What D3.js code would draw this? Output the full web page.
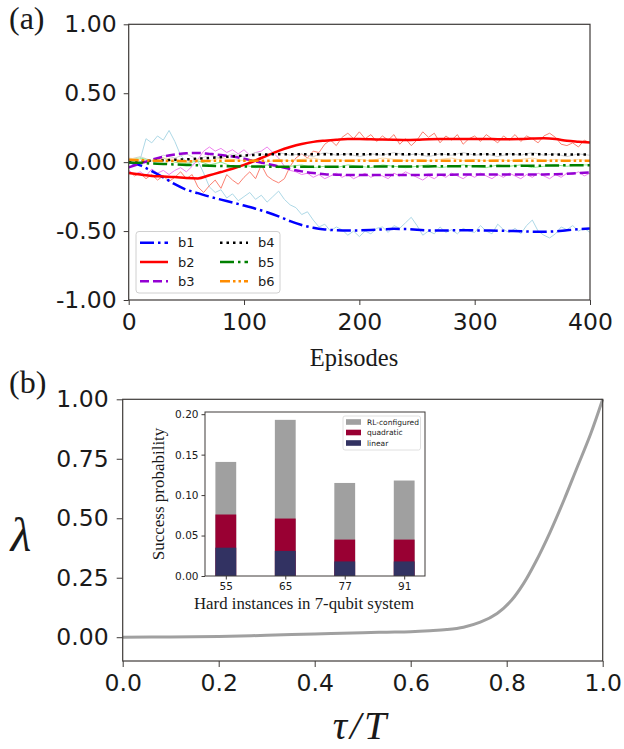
<!DOCTYPE html>
<html>
<head>
<meta charset="utf-8">
<script src="https://cdn.jsdelivr.net/npm/d3@7"></script>
<style>
  html, body { margin: 0; padding: 0; background: #fff; }
  svg { display: block; }
</style>
</head>
<body>
<svg id="fig" width="624" height="749"></svg>
<script>
// ---------- panel (a): coefficient evolution over episodes ----------
const episodesRaw = d3.range(0, 401, 5);      // raw samples every 5 episodes
const episodesSmooth = d3.range(0, 401, 10);  // smoothed curve / light traces every 10 episodes

const b1Raw = [0.00,-0.02,0.02,0.17,0.14,0.19,0.16,0.23,0.15,0.05,0.00,-0.02,0.01,-0.08,-0.18,-0.22,-0.20,-0.26,-0.23,-0.28,
  -0.25,-0.22,-0.27,-0.24,-0.29,-0.25,-0.21,-0.27,-0.31,-0.33,-0.38,-0.36,-0.42,-0.47,-0.45,-0.50,-0.47,-0.49,-0.53,-0.50,
  -0.54,-0.50,-0.52,-0.48,-0.47,-0.51,-0.46,-0.48,-0.44,-0.40,-0.46,-0.53,-0.50,-0.52,-0.47,-0.51,-0.49,-0.52,-0.48,-0.50,
  -0.51,-0.46,-0.50,-0.52,-0.45,-0.49,-0.51,-0.48,-0.52,-0.46,-0.42,-0.50,-0.53,-0.55,-0.52,-0.47,-0.49,-0.46,-0.50,-0.48,-0.51];
const b2Raw = [-0.06,-0.10,-0.08,-0.12,-0.09,-0.13,-0.10,-0.14,-0.11,-0.07,-0.12,-0.09,-0.18,-0.22,-0.17,-0.13,-0.19,-0.09,-0.13,-0.16,
  -0.11,-0.07,-0.12,-0.02,-0.10,-0.13,-0.15,-0.12,-0.03,0.03,0.06,0.03,0.08,0.07,0.13,0.16,0.12,0.18,0.21,0.17,
  0.22,0.17,0.20,0.15,0.19,0.16,0.20,0.13,0.17,0.12,0.16,0.22,0.18,0.21,0.14,0.19,0.16,0.20,0.13,0.17,
  0.19,0.15,0.20,0.17,0.14,0.19,0.16,0.20,0.15,0.19,0.17,0.14,0.19,0.21,0.18,0.13,0.12,0.14,0.11,0.16,0.14];
const b3Raw = [-0.06,-0.09,-0.07,-0.10,-0.05,-0.08,-0.06,-0.09,-0.06,-0.04,-0.07,-0.03,0.02,0.08,0.11,0.08,0.10,0.07,0.09,0.06,
  0.09,0.05,0.07,0.08,0.11,0.07,0.03,-0.03,-0.06,-0.07,-0.09,-0.08,-0.11,-0.09,-0.12,-0.10,-0.08,-0.11,-0.09,-0.12,
  -0.10,-0.08,-0.11,-0.09,-0.10,-0.12,-0.08,-0.10,-0.07,-0.09,-0.11,-0.13,-0.10,-0.12,-0.09,-0.11,-0.08,-0.10,-0.12,-0.09,
  -0.11,-0.08,-0.10,-0.12,-0.09,-0.11,-0.08,-0.10,-0.12,-0.09,-0.11,-0.08,-0.10,-0.12,-0.09,-0.11,-0.08,-0.09,-0.07,-0.10,-0.08];
const b4Raw = [0.02,0.04,0.01,0.05,0.03,0.06,0.02,0.05,0.03,0.06,0.04,0.07,0.05,0.07,0.05,0.06,0.04,0.07,0.05,0.06,
  0.04,0.06,0.05,0.07,0.05,0.06,0.04,0.06,0.05,0.07,0.05,0.06,0.04,0.06,0.05,0.07,0.05,0.06,0.04,0.06,0.05];
const b5Raw = [0.02,0.03,0.01,0.03,0.00,-0.01,0.01,-0.02,0.00,-0.03,-0.02,-0.04,-0.02,-0.04,-0.03,-0.02,-0.04,-0.03,-0.04,-0.02,
  -0.03,-0.04,-0.02,-0.03,-0.04,-0.03,-0.02,-0.04,-0.03,-0.02,-0.03,-0.04,-0.02,-0.03,-0.02,-0.04,-0.03,-0.02,-0.03,-0.02,-0.02];
const b6Raw = [0.03,0.02,0.01,0.03,0.02,0.00,0.02,0.01,0.03,0.02,0.01,0.02,0.00,0.02,0.01,0.02,0.03,0.01,0.02,0.01,
  0.02,0.01,0.03,0.02,0.01,0.02,0.01,0.02,0.03,0.01,0.02,0.01,0.02,0.01,0.02,0.03,0.01,0.02,0.01,0.02,0.01];

const b1 = [0.00,-0.024,-0.065,-0.11,-0.16,-0.20,-0.225,-0.25,-0.272,-0.293,-0.315,-0.338,-0.363,-0.393,-0.428,-0.456,-0.476,-0.488,-0.494,-0.496,
  -0.495,-0.492,-0.488,-0.484,-0.485,-0.49,-0.495,-0.496,-0.495,-0.494,-0.495,-0.496,-0.497,-0.499,-0.501,-0.504,-0.505,-0.502,-0.494,-0.487,-0.481];
const b2 = [-0.079,-0.09,-0.10,-0.104,-0.108,-0.115,-0.118,-0.095,-0.072,-0.048,-0.02,0.012,0.048,0.082,0.11,0.132,0.147,0.156,0.163,0.168,
  0.168,0.166,0.164,0.162,0.161,0.163,0.167,0.168,0.168,0.168,0.168,0.168,0.167,0.167,0.168,0.171,0.173,0.168,0.155,0.148,0.142];
const b3 = [-0.038,-0.01,0.017,0.04,0.055,0.065,0.067,0.06,0.052,0.041,0.025,0.005,-0.012,-0.031,-0.05,-0.067,-0.079,-0.087,-0.091,-0.093,
  -0.094,-0.094,-0.094,-0.093,-0.093,-0.093,-0.092,-0.092,-0.091,-0.09,-0.089,-0.089,-0.089,-0.089,-0.089,-0.089,-0.089,-0.087,-0.084,-0.08,-0.075];
const b4 = [0.005,0.007,0.01,0.013,0.017,0.02,0.025,0.03,0.036,0.042,0.048,0.053,0.056,0.057,0.058,0.058,0.058,0.058,0.058,0.058,
  0.058,0.058,0.058,0.058,0.058,0.058,0.058,0.058,0.058,0.058,0.058,0.058,0.058,0.057,0.057,0.057,0.057,0.056,0.056,0.055,0.055];
const b5 = [-0.002,-0.005,-0.01,-0.013,-0.017,-0.02,-0.023,-0.026,-0.028,-0.03,-0.031,-0.032,-0.033,-0.033,-0.033,-0.033,-0.033,-0.033,-0.033,-0.033,
  -0.033,-0.032,-0.032,-0.032,-0.032,-0.031,-0.031,-0.03,-0.03,-0.03,-0.029,-0.029,-0.028,-0.028,-0.027,-0.026,-0.025,-0.024,-0.023,-0.022,-0.022];
const b6 = [0.017,0.014,0.011,0.009,0.008,0.007,0.008,0.009,0.01,0.011,0.011,0.011,0.011,0.011,0.011,0.011,0.011,0.011,0.011,0.011,
  0.011,0.011,0.011,0.011,0.011,0.011,0.011,0.011,0.011,0.011,0.011,0.011,0.011,0.011,0.011,0.011,0.011,0.011,0.011,0.011,0.011];

const seriesNames = ["b1","b2","b3","b4","b5","b6"];
const topYTicks = [-1, -0.5, 0, 0.5, 1];
const topXTicks = [0, 100, 200, 300, 400];

// ---------- panel (b): annealing schedule ----------
const tau = [0,0.1,0.2,0.3,0.4,0.5,0.55,0.6,0.64,0.675,0.71,0.745,0.78,0.81,0.835,0.86,0.89,0.92,0.945,0.975,1.0];
const lambda = [0,0.001,0.003,0.008,0.014,0.019,0.021,0.023,0.027,0.032,0.042,0.063,0.10,0.155,0.225,0.315,0.44,0.58,0.705,0.855,1.0];
const bottomYTicks = [0, 0.25, 0.5, 0.75, 1];
const bottomXTicks = [0, 0.2, 0.4, 0.6, 0.8, 1.0];

// ---------- inset: success probabilities ----------
const instances = ["55","65","77","91"];
const rlConfigured = [0.141, 0.193, 0.115, 0.118];
const quadratic = [0.076, 0.071, 0.045, 0.045];
const linear = [0.035, 0.031, 0.018, 0.018];
const insetYTicks = [0, 0.05, 0.10, 0.15, 0.20];

// ---------- drawing ----------
const svg = d3.select("#fig");
const spine = "#3e3a38";
const tickFont = "DejaVu Sans, sans-serif";
const serif = "Liberation Serif, Times New Roman, serif";

function styleAxis(g, size) {
  g.select(".domain").remove();
  g.selectAll(".tick line").attr("stroke", spine).attr("stroke-width", 1);
  g.selectAll(".tick text").attr("fill", "#1a1a1a").attr("font-family", tickFont).attr("font-size", size);
}
function frame(x0, x1, y0, y1, w) {
  svg.append("rect").attr("x", x0).attr("y", y0).attr("width", x1 - x0).attr("height", y1 - y0)
    .attr("fill", "none").attr("stroke", spine).attr("stroke-width", w || 1.2);
}

// panel (a)
const xa = d3.scaleLinear().domain([0, 400]).range([128.7, 590]);
const ya = d3.scaleLinear().domain([-1, 1]).range([300, 24.3]);

svg.append("clipPath").attr("id", "clipA").append("rect")
  .attr("x", xa(0)).attr("y", ya(1)).attr("width", xa(400) - xa(0)).attr("height", ya(-1) - ya(1));
const plotA = svg.append("g").attr("clip-path", "url(#clipA)");

const rawSets = [
  { vals: b1Raw, eps: episodesRaw, color: "#add8e6" },
  { vals: b2Raw, eps: episodesRaw, color: "#fa8072" },
  { vals: b3Raw, eps: episodesRaw, color: "#ee82ee" },
  { vals: b4Raw, eps: episodesSmooth, color: "#d3d3d3" },
  { vals: b5Raw, eps: episodesSmooth, color: "#90ee90" },
  { vals: b6Raw, eps: episodesSmooth, color: "#ffdead" }
];
const rawLine = d3.line().x(d => xa(d[0])).y(d => ya(d[1]));
rawSets.forEach(s => {
  plotA.append("path").datum(s.eps.map((e, i) => [e, s.vals[i]]))
    .attr("d", rawLine).attr("fill", "none").attr("stroke", s.color).attr("stroke-width", 1);
});

const smoothSets = [
  { name: "b1", vals: b1, color: "#0000ff", dash: "14,4,2.5,4" },
  { name: "b2", vals: b2, color: "#ff0000", dash: null },
  { name: "b3", vals: b3, color: "#9400d3", dash: "9,4" },
  { name: "b4", vals: b4, color: "#000000", dash: "2.5,4" },
  { name: "b5", vals: b5, color: "#008000", dash: "14,4,2.5,4" },
  { name: "b6", vals: b6, color: "#ff8c00", dash: "10,3,2.5,3,2.5,3" }
];
const smoothLine = d3.line().x(d => xa(d[0])).y(d => ya(d[1])).curve(d3.curveMonotoneX);
smoothSets.forEach(s => {
  plotA.append("path").datum(episodesSmooth.map((e, i) => [e, s.vals[i]]))
    .attr("d", smoothLine).attr("fill", "none").attr("stroke", s.color)
    .attr("stroke-width", 2.5).attr("stroke-dasharray", s.dash);
});

svg.append("g").attr("transform", `translate(${xa(0)},0)`)
  .call(d3.axisLeft(ya).tickValues(topYTicks).tickSize(5).tickPadding(7).tickFormat(v => v.toFixed(2)))
  .call(g => styleAxis(g, 23.5));
svg.append("g").attr("transform", `translate(0,${ya(-1)})`)
  .call(d3.axisBottom(xa).tickValues(topXTicks).tickSize(5).tickPadding(8).tickFormat(d3.format("d")))
  .call(g => styleAxis(g, 23.5));
frame(xa(0), xa(400), ya(1), ya(-1));

// legend (a)
const legA = svg.append("g");
legA.append("rect").attr("x", 136).attr("y", 231.5).attr("width", 144).attr("height", 61.5).attr("rx", 3)
  .attr("fill", "#fff").attr("fill-opacity", 0.8).attr("stroke", "#d0d0d0");
smoothSets.forEach((s, i) => {
  const col = Math.floor(i / 3), row = i % 3;
  const lx = col === 0 ? 140 : 220;
  const ly = 242.7 + row * 19.3;
  legA.append("line").attr("x1", lx).attr("x2", lx + 28).attr("y1", ly).attr("y2", ly)
    .attr("stroke", s.color).attr("stroke-width", 2.5).attr("stroke-dasharray", s.dash);
  legA.append("text").attr("x", lx + 38).attr("y", ly).attr("dy", "0.36em")
    .attr("font-family", tickFont).attr("font-size", 13).attr("fill", "#1a1a1a").text(s.name);
});

svg.append("text").attr("x", 354).attr("y", 366).attr("text-anchor", "middle")
  .attr("font-family", serif).attr("font-size", 24.5).attr("fill", "#1a1a1a").text("Episodes");
svg.append("text").attr("x", 9).attr("y", 29).attr("font-family", serif).attr("font-size", 32)
  .attr("fill", "#1a1a1a").text("(a)");

// panel (b)
const xb = d3.scaleLinear().domain([0, 1]).range([122.7, 602.7]);
const yb = d3.scaleLinear().domain([-0.1, 1]).range([661, 399.3]);

svg.append("path").datum(tau.map((t, i) => [t, lambda[i]]))
  .attr("d", d3.line().x(d => xb(d[0])).y(d => yb(d[1])).curve(d3.curveCatmullRom.alpha(0.5)))
  .attr("fill", "none").attr("stroke", "#a0a0a0").attr("stroke-width", 3);

svg.append("g").attr("transform", `translate(${xb(0)},0)`)
  .call(d3.axisLeft(yb).tickValues(bottomYTicks).tickSize(6).tickPadding(8).tickFormat(v => v.toFixed(2)))
  .call(g => styleAxis(g, 23.5));
svg.append("g").attr("transform", `translate(0,${yb(-0.1)})`)
  .call(d3.axisBottom(xb).tickValues(bottomXTicks).tickSize(6).tickPadding(7).tickFormat(v => v.toFixed(1)))
  .call(g => styleAxis(g, 23.5));
frame(xb(0), xb(1), yb(1), yb(-0.1));

svg.append("text").attr("x", 9).attr("y", 393).attr("font-family", serif).attr("font-size", 32)
  .attr("fill", "#1a1a1a").text("(b)");
svg.append("text").attr("x", 21).attr("y", 551).attr("text-anchor", "middle")
  .attr("font-family", serif).attr("font-style", "italic").attr("font-size", 48)
  .attr("fill", "#1a1a1a").text("λ");
svg.append("text").attr("x", 361).attr("y", 739).attr("text-anchor", "middle")
  .attr("font-family", serif).attr("font-style", "italic").attr("font-size", 40)
  .attr("letter-spacing", 3).attr("fill", "#1a1a1a").text("τ/T");

// inset
const xi = d3.scalePoint().domain(instances).range([205, 425]).padding(0.35);
const yi = d3.scaleLinear().domain([0, 0.2027]).range([576, 412]);
const barW = xi.step() * 0.35;

svg.append("rect").attr("x", 205).attr("y", 412).attr("width", 220).attr("height", 164).attr("fill", "#fff");
const barLayers = [
  { name: "RL-configured", vals: rlConfigured, color: "#a0a0a0" },
  { name: "quadratic", vals: quadratic, color: "#990033" },
  { name: "linear", vals: linear, color: "#323262" }
];
barLayers.forEach(layer => {
  svg.append("g").selectAll("rect").data(instances).join("rect")
    .attr("x", d => xi(d) - barW / 2).attr("width", barW)
    .attr("y", (d, i) => yi(layer.vals[i]))
    .attr("height", (d, i) => yi(0) - yi(layer.vals[i]))
    .attr("fill", layer.color);
});
svg.append("g").attr("transform", "translate(205,0)")
  .call(d3.axisLeft(yi).tickValues(insetYTicks).tickSize(3.5).tickPadding(3).tickFormat(v => v.toFixed(2)))
  .call(g => styleAxis(g, 10.5));
svg.append("g").attr("transform", "translate(0,576)")
  .call(d3.axisBottom(xi).tickSize(3.5).tickPadding(3))
  .call(g => styleAxis(g, 10.5));
frame(205, 425, 412, 576, 1);

const legI = svg.append("g");
legI.append("rect").attr("x", 343).attr("y", 416).attr("width", 77.5).attr("height", 34).attr("rx", 2)
  .attr("fill", "#fff").attr("fill-opacity", 0.8).attr("stroke", "#d8d8d8").attr("stroke-width", 0.8);
barLayers.forEach((layer, i) => {
  const ly = 422 + i * 10.5;
  legI.append("rect").attr("x", 346).attr("y", ly - 2.8).attr("width", 15).attr("height", 5.6).attr("fill", layer.color);
  legI.append("text").attr("x", 367).attr("y", ly).attr("dy", "0.35em")
    .attr("font-family", tickFont).attr("font-size", 7.5).attr("fill", "#1a1a1a").text(layer.name);
});

svg.append("text").attr("transform", "translate(164,494) rotate(-90)").attr("text-anchor", "middle")
  .attr("font-family", serif).attr("font-size", 17).attr("fill", "#1a1a1a").text("Success probability");
svg.append("text").attr("x", 304).attr("y", 609).attr("text-anchor", "middle")
  .attr("font-family", serif).attr("font-size", 16.8).attr("fill", "#1a1a1a").text("Hard instances in 7-qubit system");
</script>
</body>
</html>
